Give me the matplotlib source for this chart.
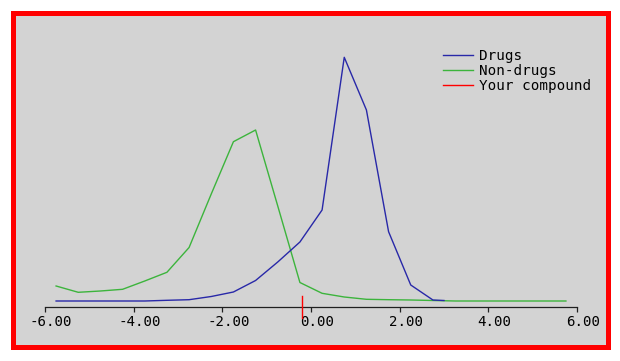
import matplotlib
matplotlib.use('Agg')
import matplotlib.pyplot as plt
import matplotlib.transforms as mtransforms
from matplotlib.patches import Rectangle

# bin centres (logP-style score) and fraction of compounds per bin
drug_x = [-5.75, -5.25, -4.75, -4.25, -3.75, -3.25, -2.75, -2.25, -1.75, -1.25,
          -0.75, -0.25, 0.25, 0.75, 1.25, 1.75, 2.25, 2.75, 3.0]
drug_y = [0.0005, 0.0005, 0.0005, 0.0005, 0.0005, 0.0012, 0.0018, 0.005, 0.0095, 0.021,
          0.0395, 0.0595, 0.0915, 0.2442, 0.1915, 0.0698, 0.0165, 0.0015, 0.001]

nondrug_x = [-5.75, -5.25, -4.75, -4.25, -3.75, -3.25, -2.75, -2.25, -1.75, -1.25,
             -0.75, -0.25, 0.25, 0.75, 1.25, 1.75, 2.25, 2.75, 3.25, 3.75,
             4.25, 4.75, 5.25, 5.75]
nondrug_y = [0.0155, 0.0092, 0.0105, 0.0122, 0.0205, 0.0292, 0.054, 0.1075, 0.1598, 0.1715,
             0.0955, 0.019, 0.0082, 0.0045, 0.0022, 0.0018, 0.0015, 0.001, 0.0005, 0.0005,
             0.0005, 0.0005, 0.0005, 0.0005]

compound_x = -0.2
ticks = [-6, -4, -2, 0, 2, 4, 6]

W, H = 620, 361
fig = plt.figure(figsize=(W / 100, H / 100), dpi=100, facecolor='white')

# red frame with grey panel
fig.patches.append(Rectangle((12.5 / W, 1 - 346.5 / H), 595 / W, 334 / H,
                             transform=fig.transFigure, facecolor='#d3d3d3',
                             edgecolor='#ff0000', linewidth=3.6, zorder=-10))

ax = fig.add_axes([45 / W, (H - 307) / H, 532 / W, 277 / H])
ax.patch.set_alpha(0)
for s in ['top', 'right', 'left']:
    ax.spines[s].set_visible(False)
ax.spines['bottom'].set_color('#202020')
ax.spines['bottom'].set_linewidth(0.9)

ax.plot(drug_x, drug_y, color='#2828a8', lw=1.0, label='Drugs', zorder=3)
ax.plot(nondrug_x, nondrug_y, color='#3cb43c', lw=1.0, label='Non-drugs', zorder=2)
ax.axvline(compound_x, ymin=-0.04, ymax=0.04, color='#ff0000', lw=1.0,
           clip_on=False, label='Your compound', zorder=4)

ax.set_xlim(-6, 6)
ax.set_ylim(-0.0055, 0.2715)
ax.set_yticks([])
ax.set_xticks(ticks)
ax.set_xticklabels([f'{t:.2f}' for t in ticks], family='DejaVu Sans Mono', fontsize=10.2)
ax.tick_params(axis='x', direction='out', length=3.6, width=0.9, color='#202020', pad=2.5)
off = mtransforms.ScaledTranslation(6 / 100, 0, fig.dpi_scale_trans)
for lbl in ax.get_xticklabels():
    lbl.set_transform(lbl.get_transform() + off)

leg = ax.legend(loc='upper left', bbox_to_anchor=((443 - 45) / 532, (307 - 49) / 277),
                frameon=False, prop={'family': 'DejaVu Sans Mono', 'size': 10.3},
                handlelength=2.1, handletextpad=0.45, labelspacing=0.08,
                borderaxespad=0, borderpad=0)

fig.savefig('out.png', dpi=100, facecolor='white')
